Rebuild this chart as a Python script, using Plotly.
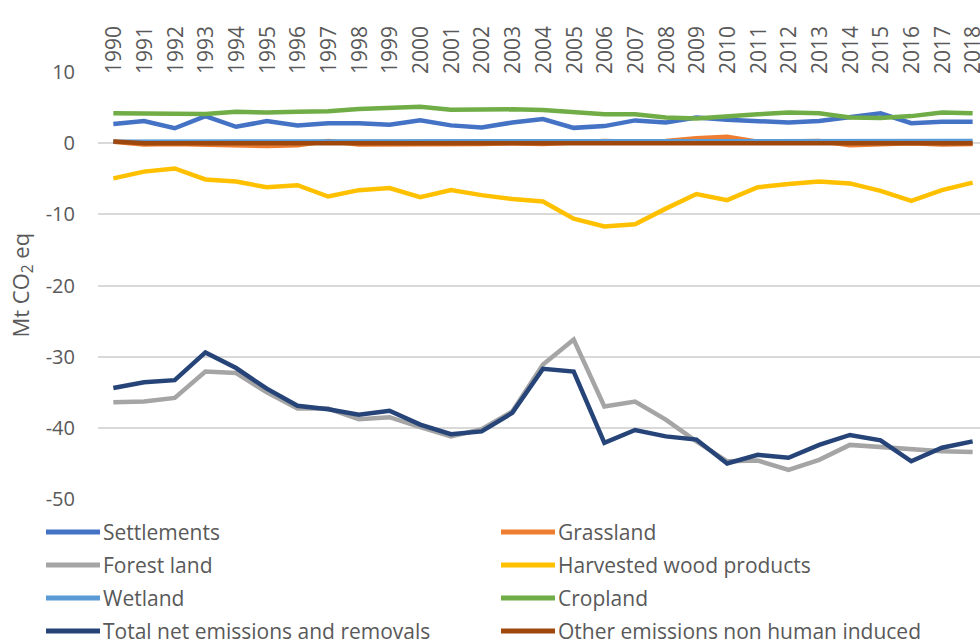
import plotly.graph_objects as go

years = [str(y) for y in range(1990, 2019)]

settlements = [2.7, 3.1, 2.1, 3.8, 2.3, 3.1, 2.5, 2.8, 2.8, 2.6, 3.2, 2.5, 2.2, 2.9, 3.4,
               2.15, 2.4, 3.2, 2.9, 3.6, 3.3, 3.1, 2.9, 3.1, 3.7, 4.2, 2.8, 3.0, 3.0]
grassland = [0.2, -0.2, -0.1, -0.2, -0.4, -0.4, -0.3, 0.3, -0.2, -0.2, -0.1, -0.2, -0.1, 0.0, -0.1,
             0.1, 0.3, 0.2, 0.3, 0.7, 0.9, 0.2, 0.2, 0.3, -0.3, -0.2, 0.0, -0.2, -0.1]
forest_land = [-36.4, -36.3, -35.8, -32.1, -32.3, -35.0, -37.3, -37.3, -38.8, -38.5, -39.9, -41.2, -40.2, -37.7, -31.1,
               -27.6, -37.0, -36.3, -38.85, -41.9, -44.7, -44.6, -45.9, -44.5, -42.4, -42.7, -43.0, -43.3, -43.4]
hwp = [-4.95, -4.0, -3.55, -5.1, -5.4, -6.2, -5.9, -7.5, -6.6, -6.3, -7.6, -6.6, -7.3, -7.85, -8.2,
       -10.6, -11.7, -11.4, -9.2, -7.15, -8.0, -6.2, -5.75, -5.4, -5.65, -6.7, -8.1, -6.6, -5.55]
wetland = [0.2, 0.25, 0.25, 0.25, 0.25, 0.25, 0.25, 0.25, 0.25, 0.25, 0.25, 0.25, 0.25, 0.25, 0.25,
           0.3, 0.3, 0.3, 0.3, 0.3, 0.3, 0.3, 0.3, 0.3, 0.3, 0.3, 0.3, 0.3, 0.3]
cropland = [4.2, 4.2, 4.2, 4.1, 4.4, 4.3, 4.4, 4.5, 4.8, 4.9, 5.1, 4.7, 4.8, 4.75, 4.65,
            4.3, 4.07, 4.05, 3.6, 3.45, 3.8, 4.05, 4.3, 4.2, 3.6, 3.55, 3.8, 4.3, 4.2]
total = [-34.4, -33.6, -33.3, -29.4, -31.6, -34.5, -36.9, -37.4, -38.15, -37.6, -39.55, -40.9, -40.5, -37.9, -31.7,
         -32.1, -42.1, -40.3, -41.2, -41.65, -45.0, -43.8, -44.2, -42.4, -41.0, -41.75, -44.7, -42.8, -41.9]
other = [0.25, 0.0, 0.0, 0.0, 0.0, 0.0, 0.0, 0.0, 0.0, 0.0, 0.0, 0.0, 0.0, 0.0, 0.0,
         0.0, 0.0, 0.0, 0.0, 0.0, 0.0, 0.0, 0.0, 0.0, 0.0, 0.0, 0.0, 0.0, 0.0]

y_tickvals = [10, 0, -10, -20, -30, -40, -50]
y_ticktext = ["10", "0", "-10", "-20", "-30", "-40", "-50"]

series_names = ["Settlements", "Grassland", "Forest land", "Harvested wood products",
                "Wetland", "Cropland", "Total net emissions and removals",
                "Other emissions non human induced"]
series_values = [settlements, grassland, forest_land, hwp, wetland, cropland, total, other]
series_colors = ["#4472C4", "#ED7D31", "#A5A5A5", "#FFC000",
                 "#5B9BD5", "#70AD47", "#264478", "#9E480E"]

FONT = "Open Sans"
TXT = "#595959"
W, H = 980, 641
L, R, T, B = 98, 0, 72, 142
PW = W - L - R
PH = H - T - B

def px_x(X):
    return (X - L) / PW

def px_y(Y):
    return (H - B - Y) / PH

fig = go.Figure()
for name, vals, color in zip(series_names, series_values, series_colors):
    fig.add_trace(go.Scatter(
        x=years, y=vals, name=name, mode="lines",
        line=dict(color=color, width=4.5),
    ))

# legend drawn in two columns, four rows (like the source chart)
shapes = []
annotations = []
col_line_x = [45, 500]
row_y = [532, 565, 598, 631]
for i, (name, color) in enumerate(zip(series_names, series_colors)):
    col = i % 2
    row = i // 2
    x0 = col_line_x[col]
    yy = row_y[row]
    shapes.append(dict(
        type="line", xref="paper", yref="paper",
        x0=px_x(x0 + 1), x1=px_x(x0 + 55), y0=px_y(yy), y1=px_y(yy),
        line=dict(color=color, width=5),
    ))
    annotations.append(dict(
        text=name, showarrow=False, xref="paper", yref="paper",
        x=px_x(x0 + 56), y=px_y(yy), xanchor="left", yanchor="middle",
        font=dict(size=21, color=TXT, family=FONT),
    ))

annotations.append(dict(
    text="Mt CO<sub>2</sub> eq", textangle=-90, showarrow=False,
    xref="paper", yref="paper", x=px_x(21), y=0.5,
    xanchor="center", yanchor="middle",
    font=dict(size=22, color=TXT, family=FONT),
))

fig.update_layout(
    width=W, height=H,
    margin=dict(l=L, r=R, t=T, b=B),
    paper_bgcolor="white", plot_bgcolor="white",
    font=dict(family=FONT, size=20, color=TXT),
    showlegend=False,
    xaxis=dict(
        type="category", side="top", tickangle=-90,
        range=[-0.5, 28.24], showgrid=False, showline=False, ticks="",
        tickfont=dict(size=21, color=TXT), ticklabelshift=1, ticklabelstandoff=-3,
        automargin=False,
    ),
    yaxis=dict(
        range=[-50, 10], tickvals=y_tickvals, ticktext=y_ticktext,
        showgrid=True, gridcolor="#D9D9D9", gridwidth=1.5,
        zeroline=False, showline=False, ticks="", ticklabelstandoff=22,
        tickfont=dict(size=20, color=TXT), automargin=False,
    ),
    shapes=shapes,
    annotations=annotations,
)

fig.write_html(
    "out.html",
    config={"displayModeBar": False},
    post_script="document.body.style.margin='0';document.body.style.overflow='hidden';",
)
